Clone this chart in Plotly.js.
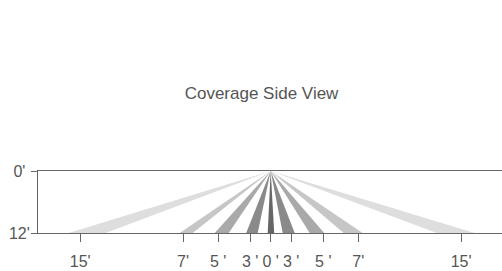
<!DOCTYPE html>
<html>
<head>
<meta charset="utf-8">
<script src="https://cdn.plot.ly/plotly-3.0.1.min.js"></script>
<style>html,body{margin:0;padding:0;overflow:hidden;background:#fff}</style>
</head>
<body>
<div id="chart" style="width:502px;height:271px"></div>
<script>
// Horizontal positions (axis units) of the wedge edges where they meet the 12' line
const zoneNames = ["15'", "7'", "5'", "3'", "0'"];
const leftInner  = [-165, -78, -42, -13, -3];
const leftOuter  = [-202, -91, -56, -24.5, -3];
const rightInner = [166, 73, 39, 12, 3.5];
const rightOuter = [204, 92, 53.5, 24, 3.5];
const zoneColors = ["#dedede", "#c6c6c6", "#a9a9a9", "#8a8a8a", "#666666"];

// Axis ticks
const xTickVals = [-190.5, -87.7, -52.5, -20.5, 0, 20.4, 52.6, 87.6, 190.4];
const xTickText = ["15'", "7'", "5 '", "3 '", "0 '", "3 '", "5 '", "7'", "15'"];
const yTickVals = [0, 12];
const yTickText = ["0'\u00a0", "12'"];
const titleText = "Coverage Side View";

const traces = [];
for (let i = 0; i < zoneNames.length; i++) {
  const isCenter = zoneNames[i] === "0'";
  const sides = isCenter ? [[leftOuter[i], rightOuter[i]]] :
    [[leftOuter[i], leftInner[i]], [rightInner[i], rightOuter[i]]];
  sides.forEach(s => {
    traces.push({
      type: 'scatter', mode: 'lines', name: zoneNames[i],
      x: [0, s[0], s[1], 0], y: [0, 12, 12, 0],
      fill: 'toself', fillcolor: zoneColors[i],
      line: {width: 0, color: zoneColors[i]},
      hoverinfo: 'skip', showlegend: false
    });
  });
}

const layout = {
  width: 502, height: 271,
  margin: {l: 38, r: 0, t: 171, b: 38},
  paper_bgcolor: '#fff', plot_bgcolor: '#fff',
  font: {family: 'Liberation Sans, Arial, sans-serif', color: '#555', size: 16},
  title: {text: titleText, font: {size: 17, color: '#555'},
          xref: 'container', yref: 'container', x: 0.521, y: 0.657,
          xanchor: 'center', yanchor: 'middle'},
  xaxis: {range: [-232.7, 231.3], showgrid: false, zeroline: false,
          showline: true, mirror: true, linecolor: '#666', linewidth: 1,
          ticks: 'outside', ticklen: 8, tickcolor: '#666', tickwidth: 1,
          tickvals: xTickVals, ticktext: xTickText,
          tickfont: {size: 16, color: '#555'}, ticklabelstandoff: 6},
  yaxis: {range: [12, 0], showgrid: false,
          zeroline: false, showline: true, linecolor: '#666', linewidth: 1,
          ticks: 'outside', ticklen: 6, tickcolor: '#666',
          tickvals: yTickVals, ticktext: yTickText,
          tickfont: {size: 16, color: '#555'}, ticklabelstandoff: -2},
  showlegend: false
};

Plotly.newPlot('chart', traces, layout, {displayModeBar: false, staticPlot: true});
</script>
</body>
</html>
